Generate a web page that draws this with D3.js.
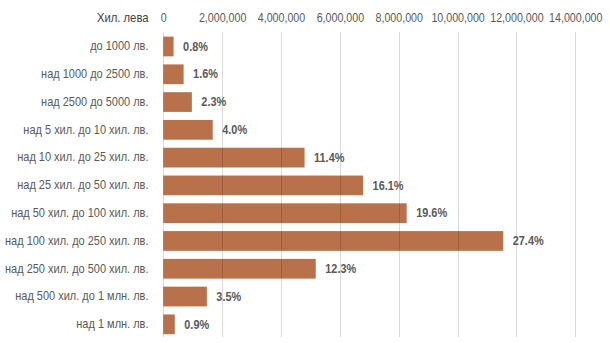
<!DOCTYPE html>
<html><head><meta charset="utf-8">
<script src="https://cdn.jsdelivr.net/npm/d3@7"></script>
<style>
body{margin:0;background:#fff;}
text{font-family:"Liberation Sans",Arial,sans-serif;}
</style></head>
<body><svg id="c" width="610" height="343"></svg>
<script>
const categories = ["до 1000 лв.","над 1000 до 2500 лв.","над 2500 до 5000 лв.","над 5 хил. до 10 хил. лв.","над 10 хил. до 25 хил. лв.","над 25 хил. до 50 хил. лв.","над 50 хил. до 100 хил. лв.","над 100 хил. до 250 хил. лв.","над 250 хил. до 500 хил. лв.","над 500 хил. до 1 млн. лв.","над 1 млн. лв."];
const values = [350000, 690000, 970000, 1680000, 4800000, 6790000, 8270000, 11550000, 5180000, 1480000, 390000];
const percents = ["0.8%","1.6%","2.3%","4.0%","11.4%","16.1%","19.6%","27.4%","12.3%","3.5%","0.9%"];
const tickValues = [0,2000000,4000000,6000000,8000000,10000000,12000000,14000000];
const axisTitle = "Хил. лева";

const FONT = '"Liberation Sans",Arial,sans-serif';
const svg = d3.select("#c");
const x = d3.scaleLinear().domain([0,14000000]).range([163.3,575.3]);
const y = d3.scaleBand().domain(categories).range([32.6,338.2]).paddingInner(0.29).paddingOuter(0.145);

// bars
svg.append("g").selectAll("rect").data(values).join("rect")
  .attr("x", x(0)).attr("y",(d,i)=>y(categories[i]))
  .attr("width", d=>x(d)-x(0)).attr("height", y.bandwidth())
  .attr("fill","#b8714a");

// gridlines over bars
svg.append("g").selectAll("line").data(tickValues).join("line")
  .attr("x1",d=>Math.round(x(d))+0.5).attr("x2",d=>Math.round(x(d))+0.5)
  .attr("y1",32).attr("y2",337)
  .attr("stroke","#000").attr("stroke-opacity",0.15).attr("stroke-width",1);

// top axis labels
const axis = d3.axisTop(x).tickValues(tickValues).tickFormat(d3.format(",")).tickSize(0);
const ag = svg.append("g").attr("transform","translate(0,21.5)").call(axis);
ag.select(".domain").remove();
ag.selectAll("text").attr("font-size",12).attr("fill","#595959").attr("dy",0).attr("y",0)
  .attr("transform","scale(0.89,1)").style("font-family",FONT);
svg.append("g").attr("transform","translate(148.5,21.5)")
  .append("text").attr("text-anchor","end").attr("transform","scale(0.94,1)")
  .attr("font-size",12).attr("fill","#404040").text(axisTitle);

// category labels
const yAxis = d3.axisLeft(y).tickSize(0).tickPadding(0);
const yg = svg.append("g").attr("transform","translate(148.5,0)").call(yAxis);
yg.select(".domain").remove();
yg.selectAll("text").attr("font-size",12).attr("fill","#595959")
  .attr("transform","scale(0.915,1)").style("font-family",FONT);

// value labels
svg.append("g").selectAll("g").data(values).join("g")
  .attr("transform",(d,i)=>`translate(${x(d)+9.5},${y(categories[i])+y.bandwidth()/2})`)
  .append("text").attr("transform","scale(0.91,1)")
  .attr("dy","0.35em").attr("font-size",12).attr("font-weight","bold").attr("fill","#595959")
  .text((d,i)=>percents[i]);
</script></body></html>
